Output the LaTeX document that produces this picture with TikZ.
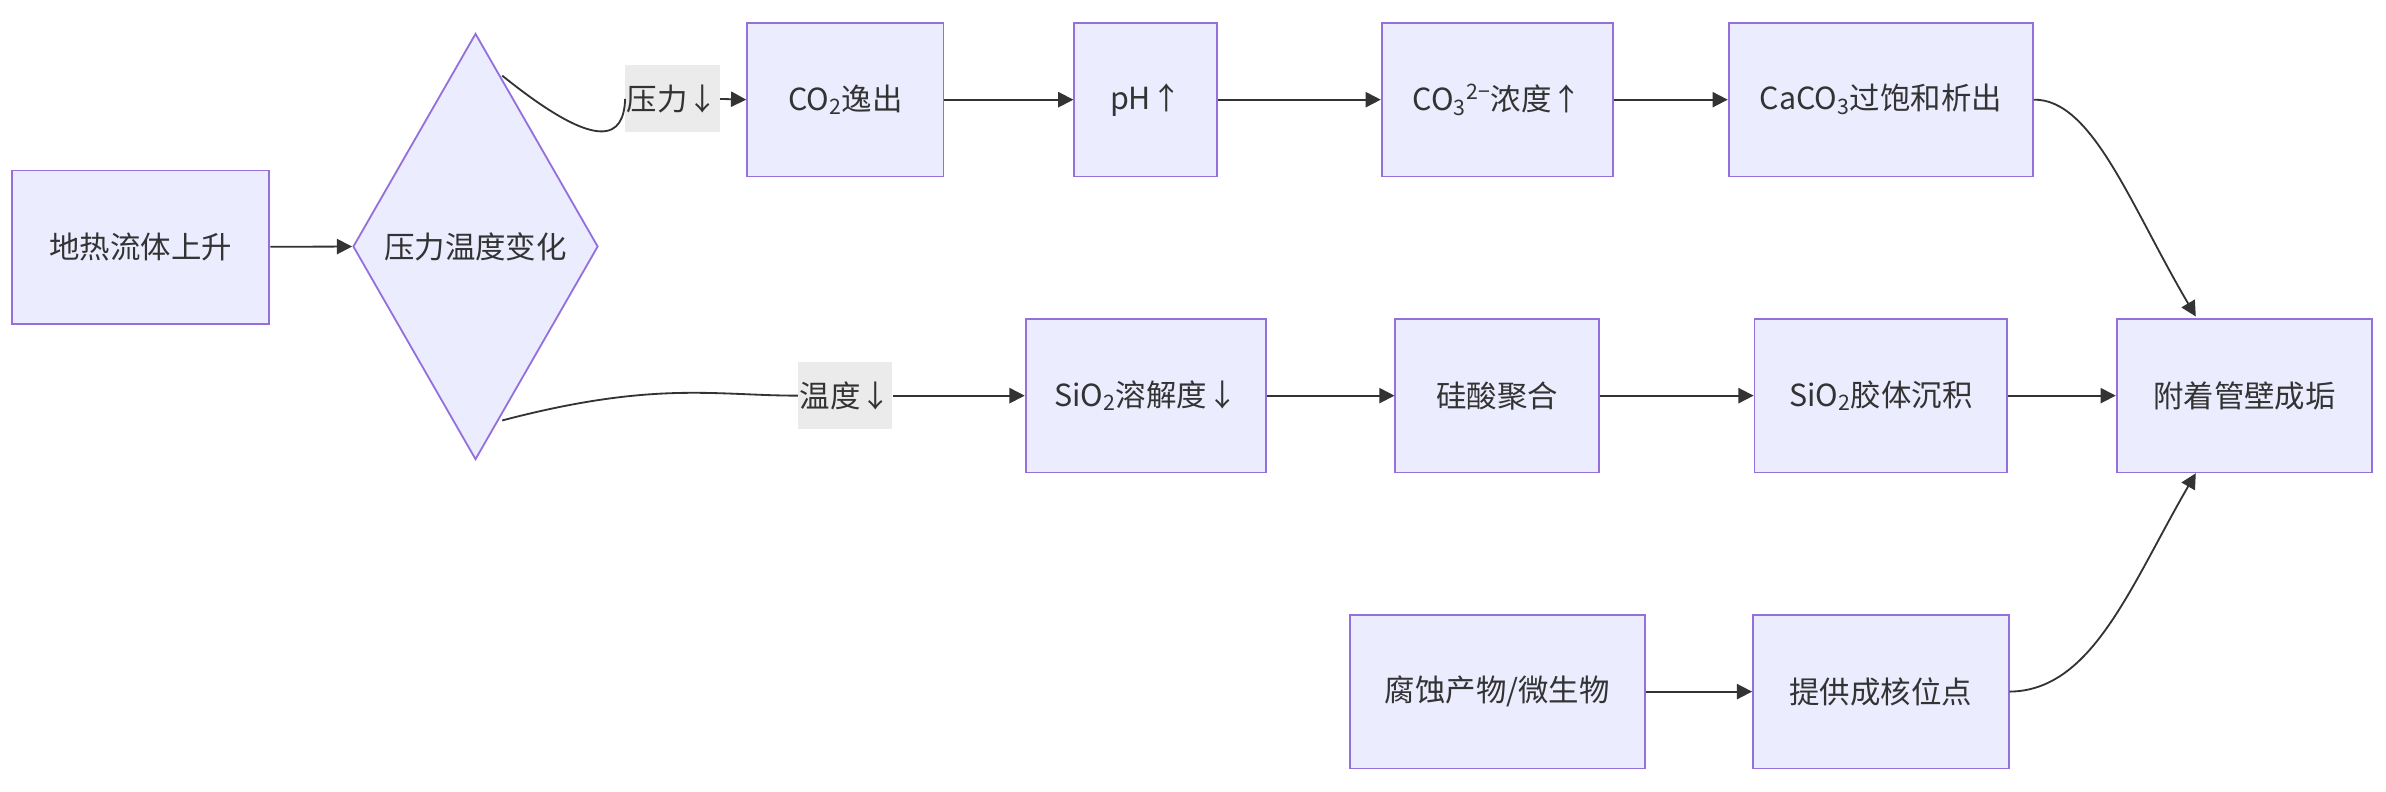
\documentclass[tikz,border=0pt]{standalone}
\usepackage{fontspec}
\setmainfont{Noto Sans CJK SC}
\usetikzlibrary{shapes.geometric,arrows.meta}
\definecolor{boxfill}{HTML}{ECECFF}
\definecolor{boxline}{HTML}{9370DB}
\definecolor{edge}{HTML}{333333}
\tikzset{
  box/.style={draw=boxline,fill=boxfill,line width=1.2pt,minimum height=101pt,inner sep=0pt,font=\fontsize{20}{24}\selectfont,text=edge},
  lbl/.style={fill=black!8,inner sep=1pt,minimum height=44pt,font=\fontsize{20}{24}\selectfont,text=edge},
  flow/.style={draw=edge,line width=1.2pt,-{Triangle[length=10pt,width=10pt]}},
}
\begin{document}
\begin{tikzpicture}[x=1pt,y=-1pt]
\useasboundingbox (0,0) rectangle (1568,520);

% nodes
\node[box,minimum width=169pt] (rise) at (92.5,162.5) {地热流体上升};
\node[box,diamond,aspect=0.575,minimum width=161pt,minimum height=280pt] (change) at (312.5,162) {压力温度变化};
\node[box,minimum width=129pt] (co2) at (555.5,65.5) {CO\textsubscript{2}逸出};
\node[box,minimum width=94pt] (ph) at (753,65.5) {pH↑};
\node[box,minimum width=152pt] (co3) at (984,65.5) {CO\textsubscript{3}\textsuperscript{2−}浓度↑};
\node[box,minimum width=200pt] (caco3) at (1236,65.5) {CaCO\textsubscript{3}过饱和析出};
\node[box,minimum width=158pt] (sio2) at (753,260) {SiO\textsubscript{2}溶解度↓};
\node[box,minimum width=134pt] (poly) at (984,260) {硅酸聚合};
\node[box,minimum width=166pt] (colloid) at (1236,260) {SiO\textsubscript{2}胶体沉积};
\node[box,minimum width=168pt] (scale) at (1475,260) {附着管壁成垢};
\node[box,minimum width=194pt] (corr) at (984,454.5) {腐蚀产物/微生物};
\node[box,minimum width=168pt] (nucl) at (1236,454.5) {提供成核位点};

% edge labels
\node[lbl] (pdown) at (442,65) {压力↓};
\node[lbl] (tdown) at (555.5,260) {温度↓};

% connectors
\draw[flow] (rise) -- (change.west);
\draw[draw=edge,line width=1.2pt] (change.north east) ++(-23,-42) coordinate (p1)
  .. controls (395,102) and (410,90) .. (pdown.west);
\draw[flow] (pdown.east) -- (co2.west);
\draw[draw=edge,line width=1.2pt] (change.south east) ++(-23,44) coordinate (p2)
  .. controls (430,250) and (470,260) .. (tdown.west);
\draw[flow] (tdown.east) -- (sio2.west);
\draw[flow] (co2) -- (ph);
\draw[flow] (ph) -- (co3);
\draw[flow] (co3) -- (caco3);
\draw[flow] (sio2) -- (poly);
\draw[flow] (poly) -- (colloid);
\draw[flow] (colloid) -- (scale);
\draw[flow] (corr) -- (nucl);
\draw[flow] (caco3.east) .. controls (1375,65) and (1400,135) .. (1443,208);
\draw[flow] (nucl.east) .. controls (1375,454) and (1400,385) .. (1443,311);
\end{tikzpicture}
\end{document}
